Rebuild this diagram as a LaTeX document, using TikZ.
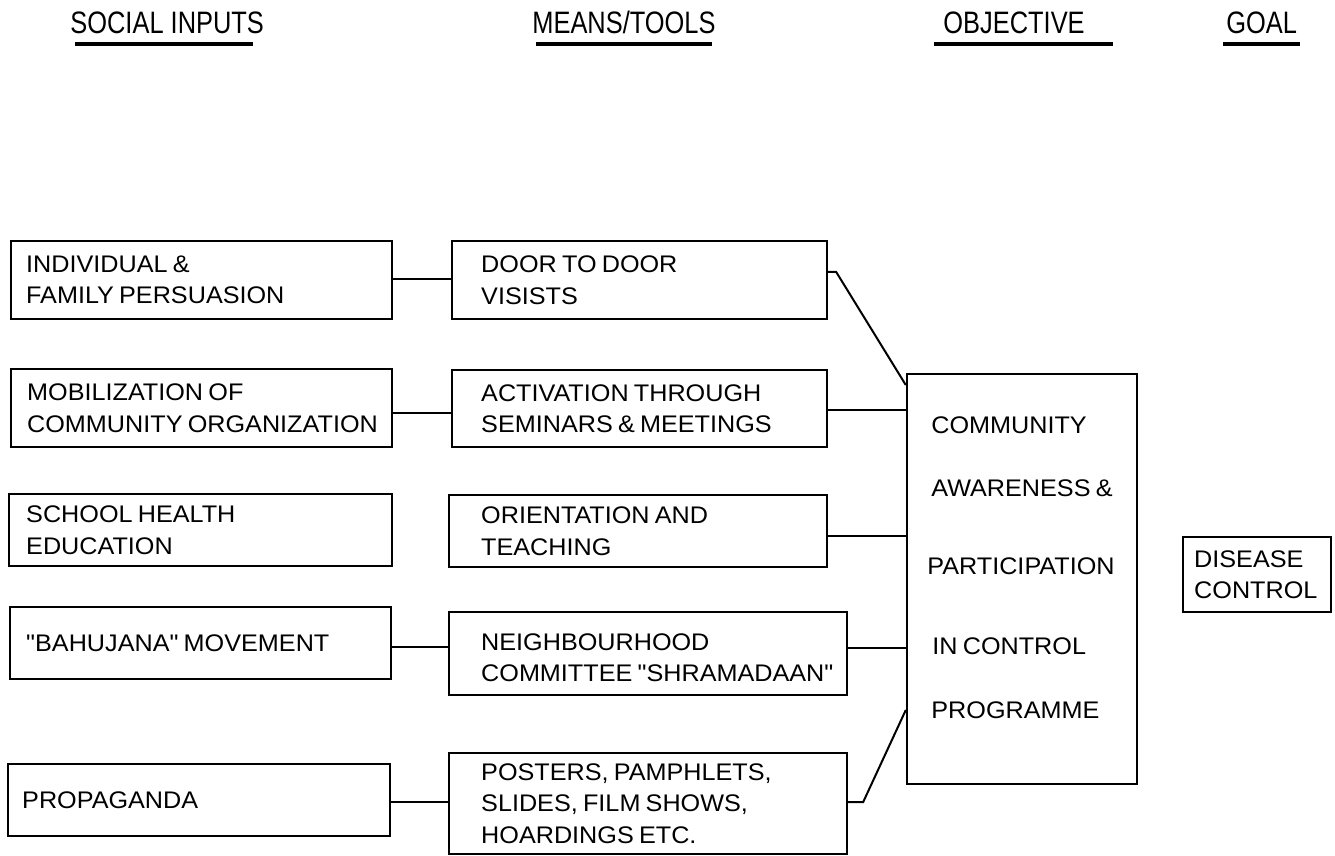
\documentclass[tikz,border=0pt]{standalone}
\usepackage{fontspec}
\setmainfont{Liberation Sans}[Ligatures=TeXOff, FakeStretch=1.05, WordSpace=0.75]
\newfontfamily\hdfont{Liberation Sans}[Ligatures=TeXOff, FakeStretch=0.82]
\begin{document}
\begin{tikzpicture}[x=0.5pt,y=-0.5pt,
  box/.style={draw, line width=1.2pt, rectangle, inner sep=0pt},
  lbl/.style={inner sep=0pt, align=left, anchor=west, font=\fontsize{12}{15.75}\selectfont},
  otxt/.style={inner sep=0pt, anchor=base west, font=\fontsize{12}{15.75}\selectfont},
  hd/.style={inner sep=0pt, anchor=base west, font=\hdfont\fontsize{15.5}{17}\selectfont},
  uline/.style={line width=2pt},
  conn/.style={line width=1pt}]
\useasboundingbox (0,0) rectangle (1335,856);

% headers
\node[hd] (h1) at (70,34) {SOCIAL INPUTS};
\node[hd] (h2) at (532,34) {MEANS/TOOLS};
\node[hd] (h3) at (943,34) {OBJECTIVE};
\node[hd] (h4) at (1226,34) {GOAL};
\coordinate (u1a) at (75,44);   \coordinate (u1b) at (253,44);
\coordinate (u2a) at (536,44);  \coordinate (u2b) at (712,44);
\coordinate (u3a) at (934,44);  \coordinate (u3b) at (1113,44);
\coordinate (u4a) at (1223,44); \coordinate (u4b) at (1300,44);
\draw[uline] (u1a) -- (u1b);
\draw[uline] (u2a) -- (u2b);
\draw[uline] (u3a) -- (u3b);
\draw[uline] (u4a) -- (u4b);

% social inputs
\node[box, minimum width=190.5pt, minimum height=39pt] (a1) at (201.5,280) {};
\node[lbl] (a1t) at ([xshift=8pt]a1.west) {INDIVIDUAL \&\\FAMILY PERSUASION};
\node[box, minimum width=190.5pt, minimum height=39pt] (a2) at (201.5,408) {};
\node[lbl] (a2t) at ([xshift=8.5pt]a2.west) {MOBILIZATION OF\\COMMUNITY ORGANIZATION};
\node[box, minimum width=191.5pt, minimum height=36pt] (a3) at (200.5,530) {};
\node[lbl] (a3t) at ([xshift=9pt]a3.west) {SCHOOL HEALTH\\EDUCATION};
\node[box, minimum width=190.5pt, minimum height=36pt] (a4) at (200.5,643) {};
\node[lbl] (a4t) at ([xshift=8.5pt]a4.west) {"BAHUJANA" MOVEMENT};
\node[box, minimum width=191pt, minimum height=36pt] (a5) at (199,800) {};
\node[lbl] (a5t) at ([xshift=7.5pt]a5.west) {PROPAGANDA};

% means / tools
\node[box, minimum width=187.5pt, minimum height=39pt] (b1) at (639.5,280) {};
\node[lbl] (b1t) at ([xshift=15pt]b1.west) {DOOR TO DOOR\\VISISTS};
\node[box, minimum width=187.5pt, minimum height=38.5pt] (b2) at (639.5,408.5) {};
\node[lbl] (b2t) at ([xshift=15pt]b2.west) {ACTIVATION THROUGH\\SEMINARS \& MEETINGS};
\node[box, minimum width=189pt, minimum height=36pt] (b3) at (638,531) {};
\node[lbl] (b3t) at ([xshift=16.5pt]b3.west) {ORIENTATION AND\\TEACHING};
\node[box, minimum width=199pt, minimum height=41.5pt] (b4) at (648,653.5) {};
\node[lbl] (b4t) at ([xshift=16.5pt,yshift=-2pt]b4.west) {NEIGHBOURHOOD\\COMMITTEE "SHRAMADAAN"};
\node[box, minimum width=199pt, minimum height=50.5pt] (b5) at (648,803.5) {};
\node[lbl] (b5t) at ([xshift=16.5pt]b5.west) {POSTERS, PAMPHLETS,\\SLIDES, FILM SHOWS,\\HOARDINGS ETC.};

% objective
\node[box, minimum width=115pt, minimum height=205pt] (o) at (1022,579) {};
\node[otxt] (o1) at (931,433) {COMMUNITY};
\node[otxt] (o2) at (931,496) {AWARENESS \&};
\node[otxt] (o3) at (927,574) {PARTICIPATION};
\node[otxt] (o4) at (932,654) {IN CONTROL};
\node[otxt] (o5) at (931,718) {PROGRAMME};

% goal
\node[box, minimum width=74pt, minimum height=37.5pt] (g) at (1257,574.5) {};
\node[lbl] (gt) at ([xshift=6pt]g.west) {DISEASE\\CONTROL};

% connectors
\draw[conn] (a1.east |- 0,279) -- (b1.west |- 0,279);
\draw[conn] (a2.east |- 0,413) -- (b2.west |- 0,413);
\draw[conn] (a4.east |- 0,647) -- (b4.west |- 0,647);
\draw[conn] (a5.east |- 0,802) -- (b5.west |- 0,802);

\draw[conn] (b1.east |- 0,272) -- ++(8,0) -- (o.west |- 0,385);
\draw[conn] (b2.east |- 0,410) -- (o.west |- 0,410);
\draw[conn] (b3.east |- 0,536) -- (o.west |- 0,536);
\draw[conn] (b4.east |- 0,648) -- (o.west |- 0,648);
\draw[conn] (b5.east |- 0,802) -- ++(15,0) -- (o.west |- 0,710);
\end{tikzpicture}
\end{document}
